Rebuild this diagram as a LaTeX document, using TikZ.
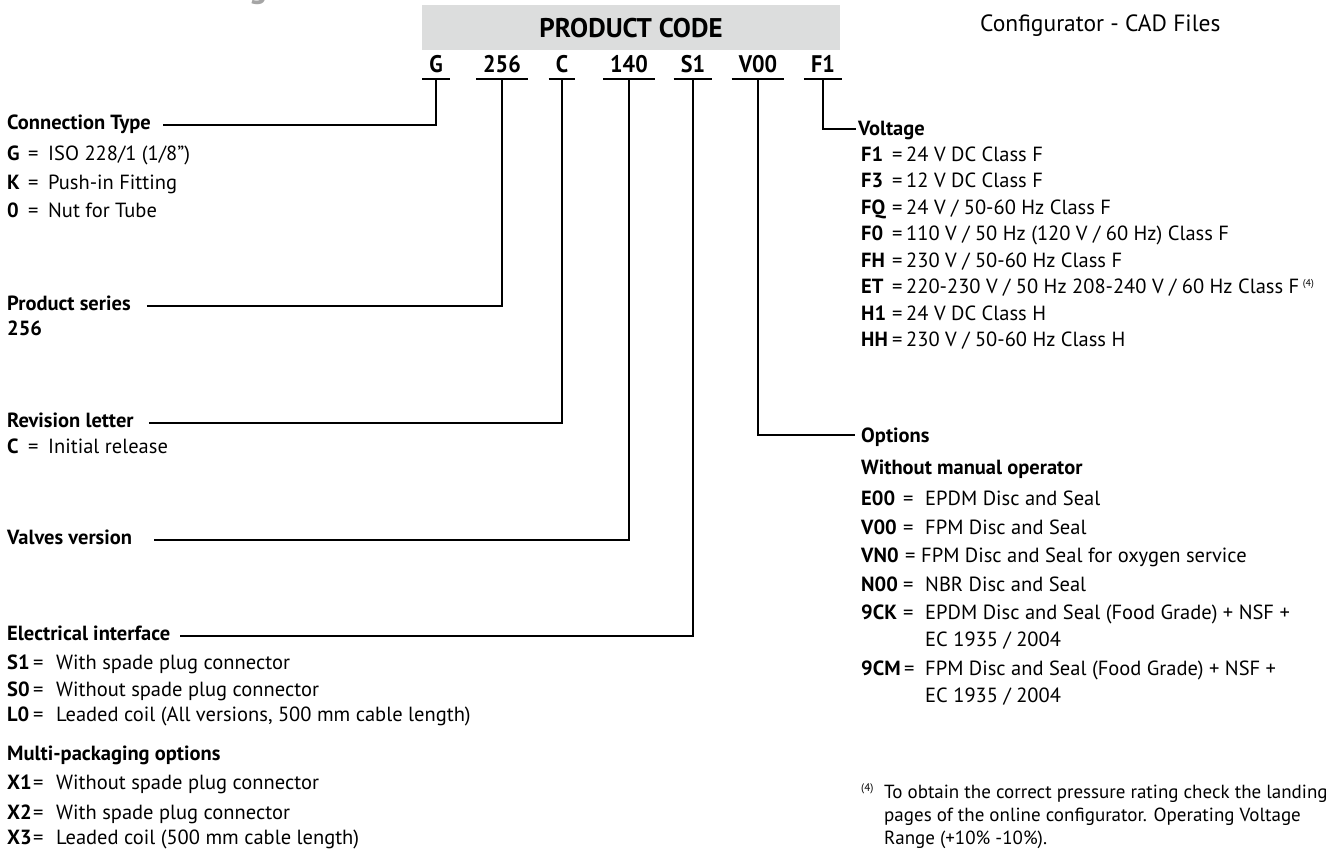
\documentclass[tikz,border=0pt]{standalone}
\usepackage{fontspec}
\setmainfont{PT Sans}
\newfontfamily\condfont[FakeStretch=0.92]{PT Sans}
\definecolor{boxgray}{RGB}{220,221,221}
\definecolor{tailgray}{RGB}{165,165,165}
\newcommand{\keyrow}[4]{\makebox[#1pt][l]{\bfseries #2}\makebox[#3pt][l]{=}#4}

\begin{document}
\begin{tikzpicture}[x=1pt, y=-1pt,
  every node/.style={inner sep=0pt, anchor=base west, font=\fontsize{20.5}{24}\selectfont},
  code/.style={anchor=base, inner xsep=7pt, text depth=6pt, font=\condfont\bfseries\fontsize{24}{28}\selectfont},
  head/.style={font=\bfseries\fontsize{20.5}{24}\selectfont},
  lead/.style={line width=1.4pt},
  uline/.style={line width=2pt}]

\useasboundingbox (0,0) rectangle (1344,851);

% cut-off title and header

\node[anchor=base, text=tailgray, font=\bfseries\fontsize{34}{40}\selectfont] (ttail) at (258,-2) {g};
\node[fill=boxgray, anchor=north west, minimum width=418pt, minimum height=45pt] (pcbox) at (422,5) {};
\node[anchor=base, font=\bfseries\fontsize{27}{30}\selectfont] (pctitle) at (631,38) {PRODUCT CODE};
\node[font=\fontsize{23.5}{27}\selectfont] (cad) at (980,32) {Configurator - CAD Files};

% code letters

\node[code] (cG) at (436,73) {G};
\node[code] (c256) at (502,73) {256};
\node[code] (cC) at (562,73) {C};
\node[code] (c140) at (629,73) {140};
\node[code] (cS1) at (693,73) {S1};
\node[code] (cV00) at (758,73) {V00};
\node[code] (cF1) at (823,73) {F1};

\foreach \c in {cG,c256,cC,c140,cS1,cV00,cF1}
  \draw[uline] (\c.south west) -- (\c.south east);

% left column

\node[head] (ctype) at (7,129) {Connection Type};
\node (rG) at (7,160) {\keyrow{21}{G}{20}{ISO 228/1 (1/8”)}};
\node (rK) at (7,189) {\keyrow{21}{K}{20}{Push-in Fitting}};
\node (r0) at (7,217) {\keyrow{21}{0}{20}{Nut for Tube}};

\node[head] (pser) at (7,310) {Product series};
\node[head] (r256) at (7,335) {256};

\node[head] (rev) at (7,427) {Revision letter};
\node (rC) at (7,453) {\keyrow{21}{C}{20}{Initial release}};

\node[head] (valv) at (7,544) {Valves version};

\node[head] (elec) at (7,640) {Electrical interface};
\node (rS1) at (7,669) {\keyrow{26}{S1}{23}{With spade plug connector}};
\node (rS0) at (7,696) {\keyrow{26}{S0}{23}{Without spade plug connector}};
\node (rL0) at (7,721) {\keyrow{26}{L0}{23}{Leaded coil (All versions, 500 mm cable length)}};

\node[head] (mult) at (7,760) {Multi-packaging options};
\node (rX1) at (7,789) {\keyrow{26}{X1}{23}{Without spade plug connector}};
\node (rX2) at (7,819) {\keyrow{26}{X2}{23}{With spade plug connector}};
\node (rX3) at (7,844) {\keyrow{26}{X3}{23}{Leaded coil (500 mm cable length)}};

% right column

\node[head] (volt) at (858,135) {Voltage};
\node (rF1) at (861,161) {\keyrow{31}{F1}{14}{24 V DC Class F}};
\node (rF3) at (861,187.5) {\keyrow{31}{F3}{14}{12 V DC Class F}};
\node (rFQ) at (861,214) {\keyrow{31}{FQ}{14}{24 V / 50-60 Hz Class F}};
\node (rF0) at (861,240.5) {\keyrow{31}{F0}{14}{110 V / 50 Hz (120 V / 60 Hz) Class F}};
\node (rFH) at (861,267) {\keyrow{31}{FH}{14}{230 V / 50-60 Hz Class F}};
\node (rET) at (861,293.5) {\keyrow{31}{ET}{14}{220-230 V / 50 Hz 208-240 V / 60 Hz Class F\,\raisebox{7pt}{\fontsize{10}{11}\selectfont(4)}}};
\node (rH1) at (861,320) {\keyrow{31}{H1}{14}{24 V DC Class H}};
\node (rHH) at (861,346.5) {\keyrow{31}{HH}{14}{230 V / 50-60 Hz Class H}};

\node[head] (opts) at (861,442) {Options};
\node[head] (wman) at (861,474) {Without manual operator};
\node (rE00) at (861,505) {\keyrow{42}{E00}{22}{EPDM Disc and Seal}};
\node (rV00) at (861,534) {\keyrow{42}{V00}{22}{FPM Disc and Seal}};
\node (rVN0) at (861,562) {\keyrow{44}{VN0}{16}{FPM Disc and Seal for oxygen service}};
\node (rN00) at (861,591) {\keyrow{42}{N00}{22}{NBR Disc and Seal}};
\node (r9CK) at (861,619) {\keyrow{42}{9CK}{22}{EPDM Disc and Seal (Food Grade) + NSF +}};
\node (r9CKb) at (925,646) {EC 1935 / 2004};
\node (r9CM) at (861,675) {\keyrow{43}{9CM}{21}{FPM Disc and Seal (Food Grade) + NSF +}};
\node (r9CMb) at (925,702) {EC 1935 / 2004};

% footnote

\node[font=\fontsize{11}{12}\selectfont] (fnmark) at (861,791) {(4)};
\node[font=\fontsize{19}{22}\selectfont] (fn1) at (884,798) {To obtain the correct pressure rating check the landing};
\node[font=\fontsize{19}{22}\selectfont] (fn2) at (884,821) {pages of the online configurator. Operating Voltage};
\node[font=\fontsize{19}{22}\selectfont] (fn3) at (884,844) {Range (+10\% -10\%).};

% leader lines

\draw[lead] ([xshift=12pt,yshift=4pt]ctype.base east) -| (cG.south);
\draw[lead] ([xshift=16pt,yshift=4pt]pser.base east) -| (c256.south);
\draw[lead] ([xshift=15pt,yshift=4pt]rev.base east) -| (cC.south);
\draw[lead] ([xshift=22pt,yshift=4pt]valv.base east) -| (c140.south);
\draw[lead] ([xshift=10pt,yshift=4pt]elec.base east) -| (cS1.south);
\draw[lead] (cV00.south) |- ([xshift=-6pt,yshift=7pt]opts.base west);
\draw[lead] (cF1.south) |- ([xshift=-2pt,yshift=6pt]volt.base west);

\end{tikzpicture}
\end{document}
